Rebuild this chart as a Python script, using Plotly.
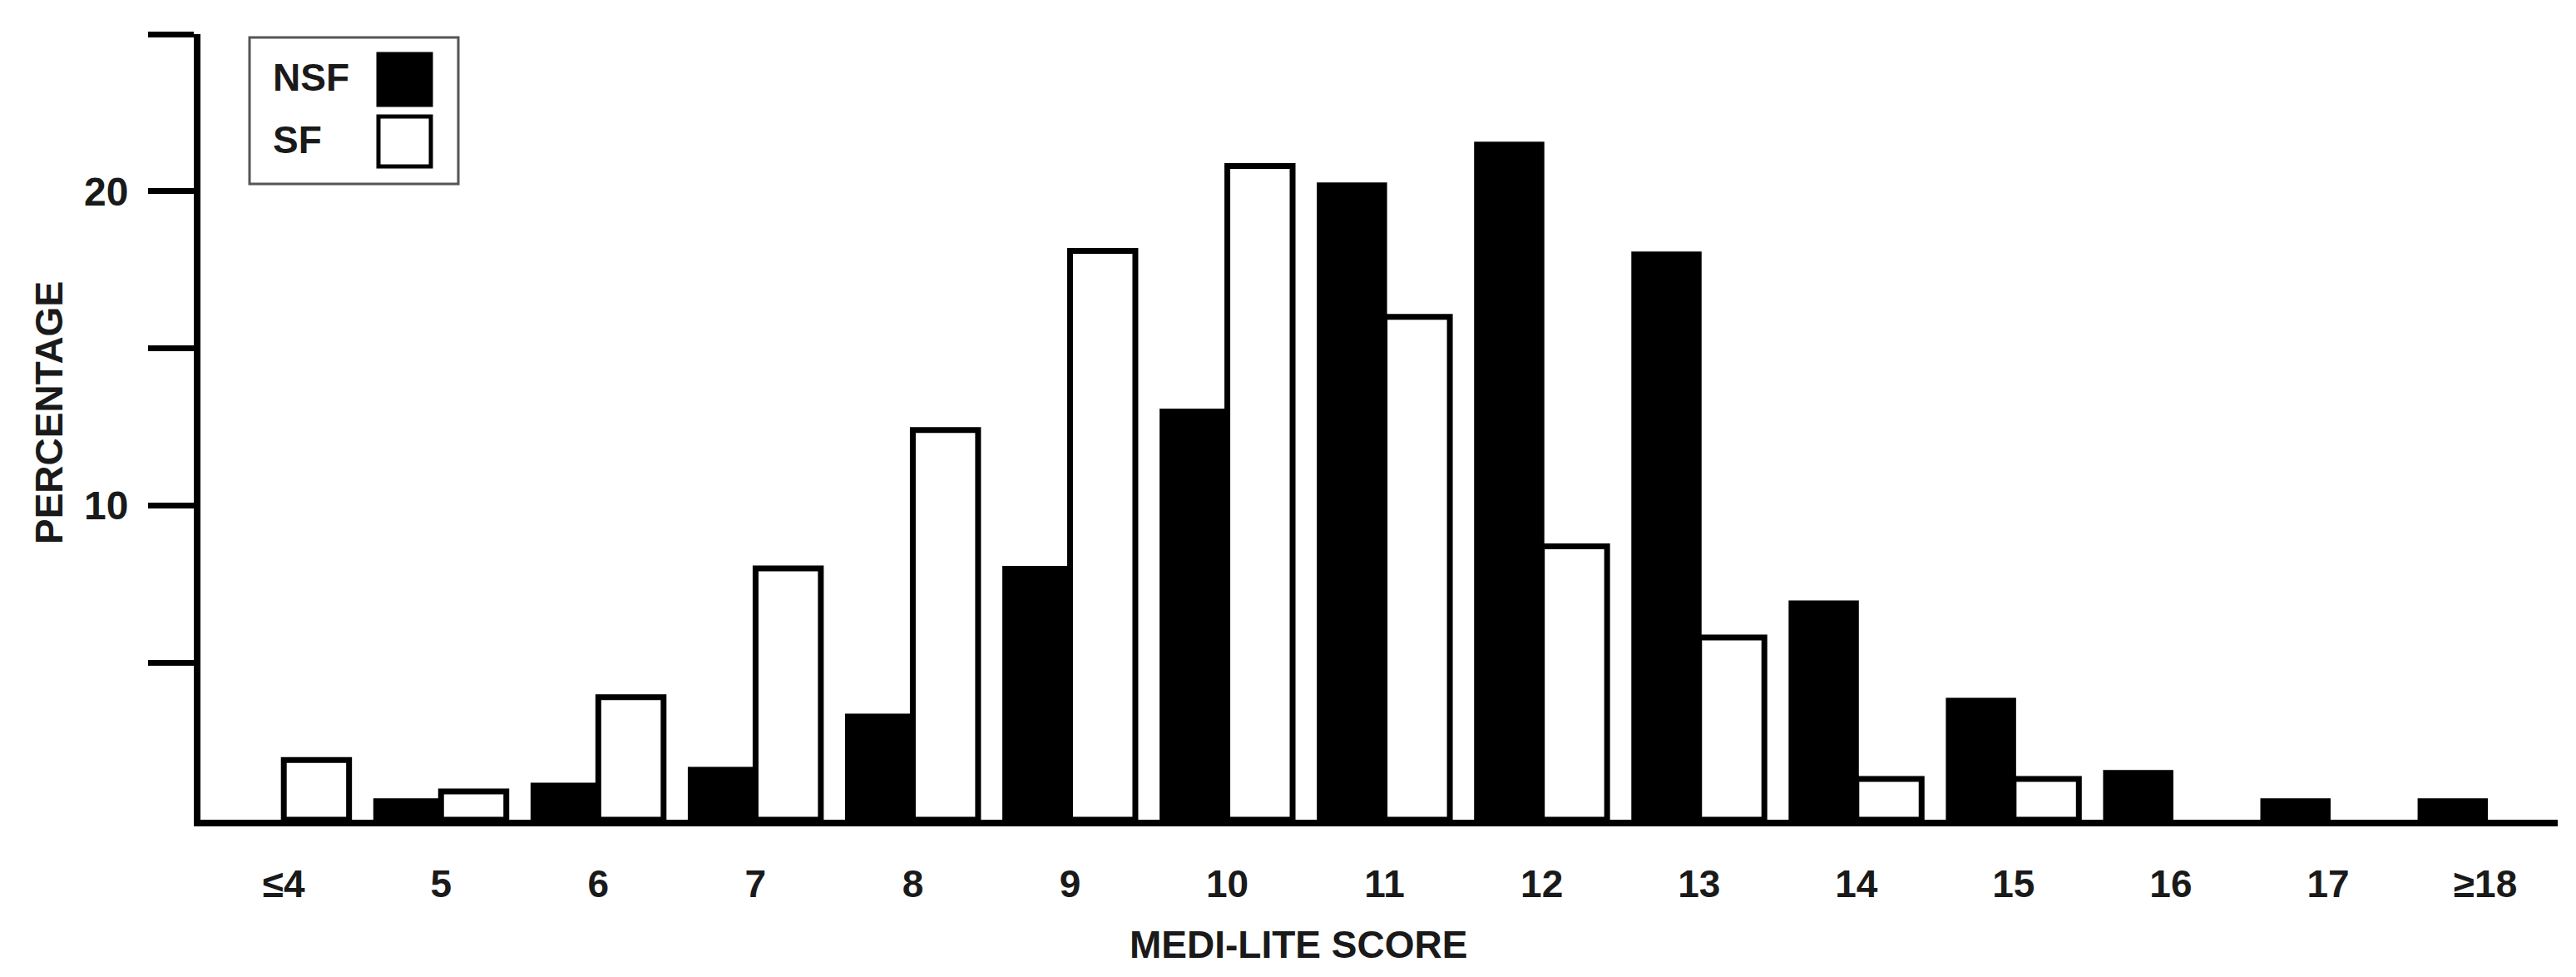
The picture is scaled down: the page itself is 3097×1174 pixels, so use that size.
import plotly.graph_objects as go

# Data (None = no bar drawn)
scores = ["≤4", "5", "6", "7", "8", "9", "10", "11", "12", "13", "14", "15", "16", "17", "≥18"]
nsf = [None, 0.6, 1.1, 1.6, 3.3, 8.0, 13.0, 20.2, 21.5, 18.0, 6.9, 3.8, 1.5, 0.6, 0.6]
sf = [1.9, 0.9, 3.9, 8.0, 12.4, 18.1, 20.8, 16.0, 8.7, 5.8, 1.3, 1.3, None, None, None]
series_names = ["NSF", "SF"]
y_tickvals = [5, 10, 15, 20, 25]
y_ticktext = ["", "10", "", "20", ""]

W, H = 3097, 1174
L, R, T, B = 233, 30, 33, 197
FONT = "Liberation Sans, Arial, sans-serif"


def paper(px, py):
    # convert pixel position on the page to paper coords
    return (px - L) / (W - L - R), (H - B - py) / (H - T - B)


fig = go.Figure()
fig.add_trace(go.Bar(x=scores, y=nsf, name=series_names[0],
                     marker=dict(color="black", line=dict(color="black", width=6))))
fig.add_trace(go.Bar(x=scores, y=sf, name=series_names[1],
                     marker=dict(color="white", line=dict(color="black", width=7))))

fig.update_layout(
    width=W, height=H,
    margin=dict(l=L, r=R, t=T, b=B),
    paper_bgcolor="white", plot_bgcolor="white",
    barmode="group", bargap=0.17, bargroupgap=0,
    showlegend=False,
    font=dict(family=FONT, color="#1a1a1a"),
)

fig.update_xaxes(
    type="category", range=[-0.53, 14.46],
    showline=True, linewidth=8, linecolor="black",
    showgrid=False, zeroline=False, ticks="",
    ticklabelstandoff=30,
    tickfont=dict(size=46, family=FONT, color="#1a1a1a", weight="bold"),
)
fig.update_yaxes(
    range=[0, 25], tickvals=y_tickvals, ticktext=y_ticktext,
    showline=True, linewidth=8, linecolor="black",
    showgrid=False, zeroline=False,
    ticks="outside", ticklen=55, tickwidth=7, tickcolor="black",
    ticklabelstandoff=14,
    tickfont=dict(size=48, family=FONT, color="#1a1a1a", weight="bold"),
)

# axis titles
x0, y0 = paper(1553, 1127)
fig.add_annotation(text="MEDI-LITE SCORE", xref="paper", yref="paper", x=x0, y=y0,
                   showarrow=False, xanchor="center", yanchor="middle",
                   font=dict(size=46, family=FONT, color="#1a1a1a", weight="bold"))
x0, y0 = paper(51, 488)
fig.add_annotation(text="PERCENTAGE", xref="paper", yref="paper", x=x0, y=y0,
                   showarrow=False, textangle=-90, xanchor="center", yanchor="middle",
                   font=dict(size=46, family=FONT, color="#1a1a1a", weight="bold"))

# legend box drawn by hand: label on the left, swatch on the right
bx0, by0 = paper(292, 213)
bx1, by1 = paper(543, 37)
fig.add_shape(type="rect", xref="paper", yref="paper", x0=bx0, y0=by0, x1=bx1, y1=by1,
              line=dict(color="#555555", width=3), fillcolor="white")
swatches = [("black", 57, 118, 85), ("white", 132, 192, 160)]
for name, (fill, top, bot, mid) in zip(series_names, swatches):
    sx0, sy0 = paper(447, bot)
    sx1, sy1 = paper(510, top)
    fig.add_shape(type="rect", xref="paper", yref="paper", x0=sx0, y0=sy0, x1=sx1, y1=sy1,
                  line=dict(color="black", width=5), fillcolor=fill)
    tx, ty = paper(318, mid)
    fig.add_annotation(text=name, xref="paper", yref="paper", x=tx, y=ty,
                       showarrow=False, xanchor="left", yanchor="middle",
                       font=dict(size=46, family=FONT, color="#1a1a1a", weight="bold"))

fig.write_html("out.html")
